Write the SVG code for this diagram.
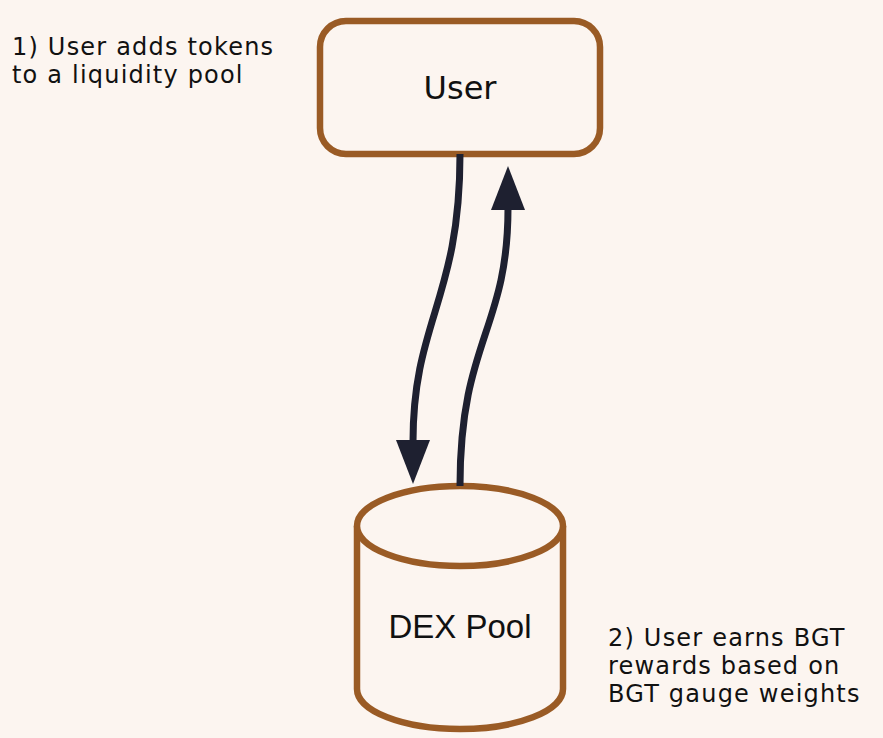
<svg xmlns="http://www.w3.org/2000/svg" width="883" height="738" viewBox="0 0 883 738">
  <style>
    .box { fill: #FCF5F0; stroke: #9A5B25; stroke-width: 6.5; }
    .edge { fill: none; stroke: #1E2030; stroke-width: 7; }
    .label { font-family: "DejaVu Sans", "Liberation Sans", sans-serif; font-size: 24px; letter-spacing: 1.2px; fill: #111111; }
    .title { font-family: "DejaVu Sans", "Liberation Sans", sans-serif; font-size: 32px; fill: #111111; text-anchor: middle; }
    .arial { font-family: "Liberation Sans", Arial, sans-serif; font-size: 33px; fill: #111111; text-anchor: middle; }
  </style>
  <defs>
    <marker id="head" markerUnits="userSpaceOnUse" markerWidth="46" markerHeight="34" viewBox="0 0 46 34" refX="2" refY="17" orient="auto">
      <path d="M0,0 L44,17 L0,34 z" fill="#1E2030"/>
    </marker>
  </defs>
  <rect width="883" height="738" fill="#FCF5F0"/>

  <g id="note1">
    <text class="label" x="12" y="55">1) User adds tokens</text>
    <text class="label" x="12" y="83">to a liquidity pool</text>
  </g>

  <g id="user">
    <rect class="box" x="320" y="21" width="280" height="133" rx="26" ry="26"/>
    <text class="title" x="460" y="99">User</text>
  </g>

  <g id="dex-pool">
    <path class="box" d="M357,526 L357,689 A103,40 0 0 0 563,689 L563,526"/>
    <ellipse class="box" cx="460" cy="526" rx="103" ry="40"/>
    <text class="arial" x="460" y="638">DEX Pool</text>
  </g>

  <g id="note2">
    <text class="label" x="608" y="646">2) User earns BGT</text>
    <text class="label" x="608" y="674">rewards based on</text>
    <text class="label" x="608" y="702">BGT gauge weights</text>
  </g>

  <g id="connectors">
    <path class="edge" d="M460,154 C460,300 413,320 413,442" marker-end="url(#head)"/>
    <path class="edge" d="M460,486 C460,340 508,330 508,208" marker-end="url(#head)"/>
  </g>
</svg>
